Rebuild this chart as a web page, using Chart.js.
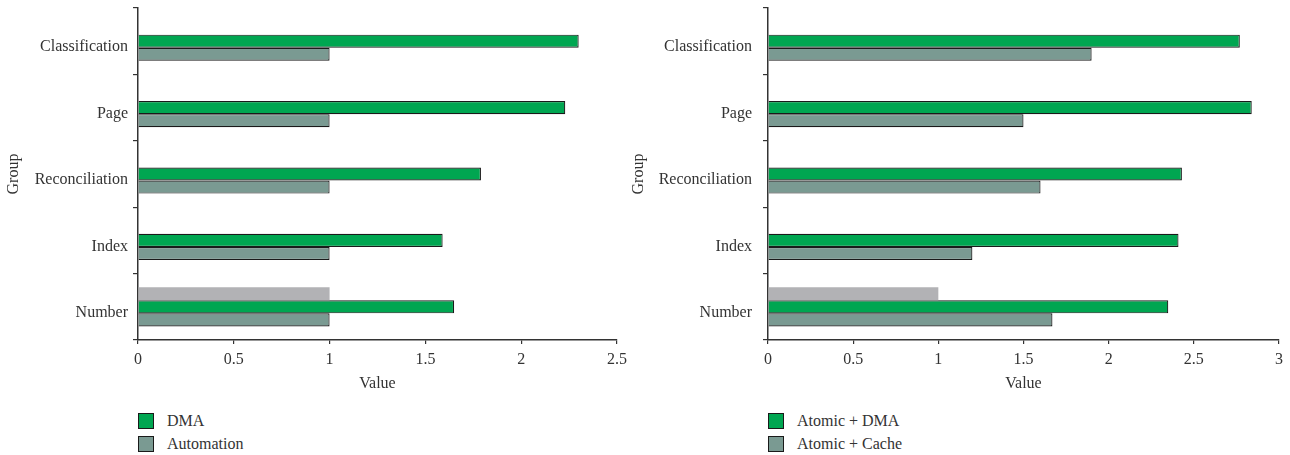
<!DOCTYPE html>
<html>
<head>
<meta charset="utf-8">
<script src="https://cdn.jsdelivr.net/npm/chart.js@4"></script>
<style>
    body { margin: 0; background: #fff; width: 1290px; height: 455px; position: relative; overflow: hidden; }
    .panel { position: absolute; top: 0; }
    .legend { position: absolute; font-family: "Liberation Serif", serif; font-size: 16px; color: #333; }
    .legend div { height: 23.5px; display: flex; align-items: center; }
    .legend span.box { display: inline-block; width: 14px; height: 14px; border: 1px solid #1a1a1a; margin-right: 13px; }
</style>
</head>
<body>
<div class="panel" style="left:0px"><canvas id="chart-left" width="645" height="400"></canvas></div>
<div class="panel" style="left:625px"><canvas id="chart-right" width="665" height="400"></canvas></div>
<div class="legend" id="legend-left" style="left:138px; top:409px"></div>
<div class="legend" id="legend-right" style="left:768px; top:409px"></div>
<script>
// Categories, top to bottom
const groups = ['Classification', 'Page', 'Reconciliation', 'Index', 'Number'];

// Left panel
const dmaValues = [2.30, 2.23, 1.79, 1.59, 1.65];
const automationValues = [1, 1, 1, 1, 1];

// Right panel
const atomicDmaValues = [2.77, 2.84, 2.43, 2.41, 2.35];
const atomicCacheValues = [1.90, 1.50, 1.60, 1.20, 1.67];

// Light gray reference bar, only shown for Number
const baselineValues = [null, null, null, null, 1];

const greenColor = '#00a651';
const grayColor = '#7a9a92';
const lightGray = '#b2b2b5';
const textColor = '#333';
const fontFamily = '"Liberation Serif", serif';

function makeChart(canvasId, labelA, valuesA, labelB, valuesB, xMax, yWidth, tickPad, padRight) {
    const ctx = document.getElementById(canvasId).getContext('2d');
    return new Chart(ctx, {
        type: 'bar',
        data: {
            labels: groups,
            datasets: [
                { label: 'Baseline', data: baselineValues, backgroundColor: lightGray, borderWidth: 0 },
                { label: labelA, data: valuesA, backgroundColor: greenColor, borderColor: '#1a1a1a', borderWidth: 1.2 },
                { label: labelB, data: valuesB, backgroundColor: grayColor, borderColor: '#1a1a1a', borderWidth: 1.2 }
            ]
        },
        options: {
            indexAxis: 'y',
            responsive: false,
            animation: false,
            devicePixelRatio: 1,
            categoryPercentage: 0.59,
            barPercentage: 1.0,
            skipNull: false,
            layout: { padding: { top: 8, right: padRight, left: 0, bottom: 0 } },
            plugins: {
                legend: { display: false },
                tooltip: { enabled: false }
            },
            scales: {
                x: {
                    min: 0,
                    max: xMax,
                    ticks: {
                        stepSize: 0.5, color: textColor, padding: 6, font: { family: fontFamily, size: 16 },
                        callback: value => String(value)
                    },
                    grid: { drawOnChartArea: false, drawTicks: true, tickLength: 4, color: '#333', lineWidth: 1.2 },
                    border: { display: true, color: '#333', width: 1.5 },
                    title: { display: true, text: 'Value', color: textColor, font: { family: fontFamily, size: 16 }, padding: { top: 4, bottom: 7 } },
                    afterFit: scale => { scale.height = 60; }
                },
                y: {
                    ticks: { color: textColor, padding: tickPad, labelOffset: 6, font: { family: fontFamily, size: 16 } },
                    grid: { drawOnChartArea: false, drawTicks: true, tickLength: 5, color: '#333', lineWidth: 1.2 },
                    border: { display: true, color: '#333', width: 1.5 },
                    title: { display: true, text: 'Group', color: textColor, font: { family: fontFamily, size: 16 }, padding: { top: 4, bottom: 0 } },
                    afterFit: scale => {
                        scale.width = yWidth;
                        // don't let label heights push the plot top down
                        scale.paddingTop = 0;
                        scale.paddingBottom = 0;
                    }
                }
            }
        }
    });
}

// Simple html legend (the baseline bar has no entry)
function buildLegend(id, items) {
    const el = document.getElementById(id);
    items.forEach(item => {
        const row = document.createElement('div');
        row.innerHTML = `<span class="box" style="background:${item.color}"></span>${item.label}`;
        el.appendChild(row);
    });
}

makeChart('chart-left', 'DMA', dmaValues, 'Automation', automationValues, 2.5, 138, 5, 28);
makeChart('chart-right', 'Atomic + DMA', atomicDmaValues, 'Atomic + Cache', atomicCacheValues, 3, 143, 11, 11);

buildLegend('legend-left', [
    { label: 'DMA', color: greenColor },
    { label: 'Automation', color: grayColor }
]);
buildLegend('legend-right', [
    { label: 'Atomic + DMA', color: greenColor },
    { label: 'Atomic + Cache', color: grayColor }
]);
</script>
</body>
</html>
